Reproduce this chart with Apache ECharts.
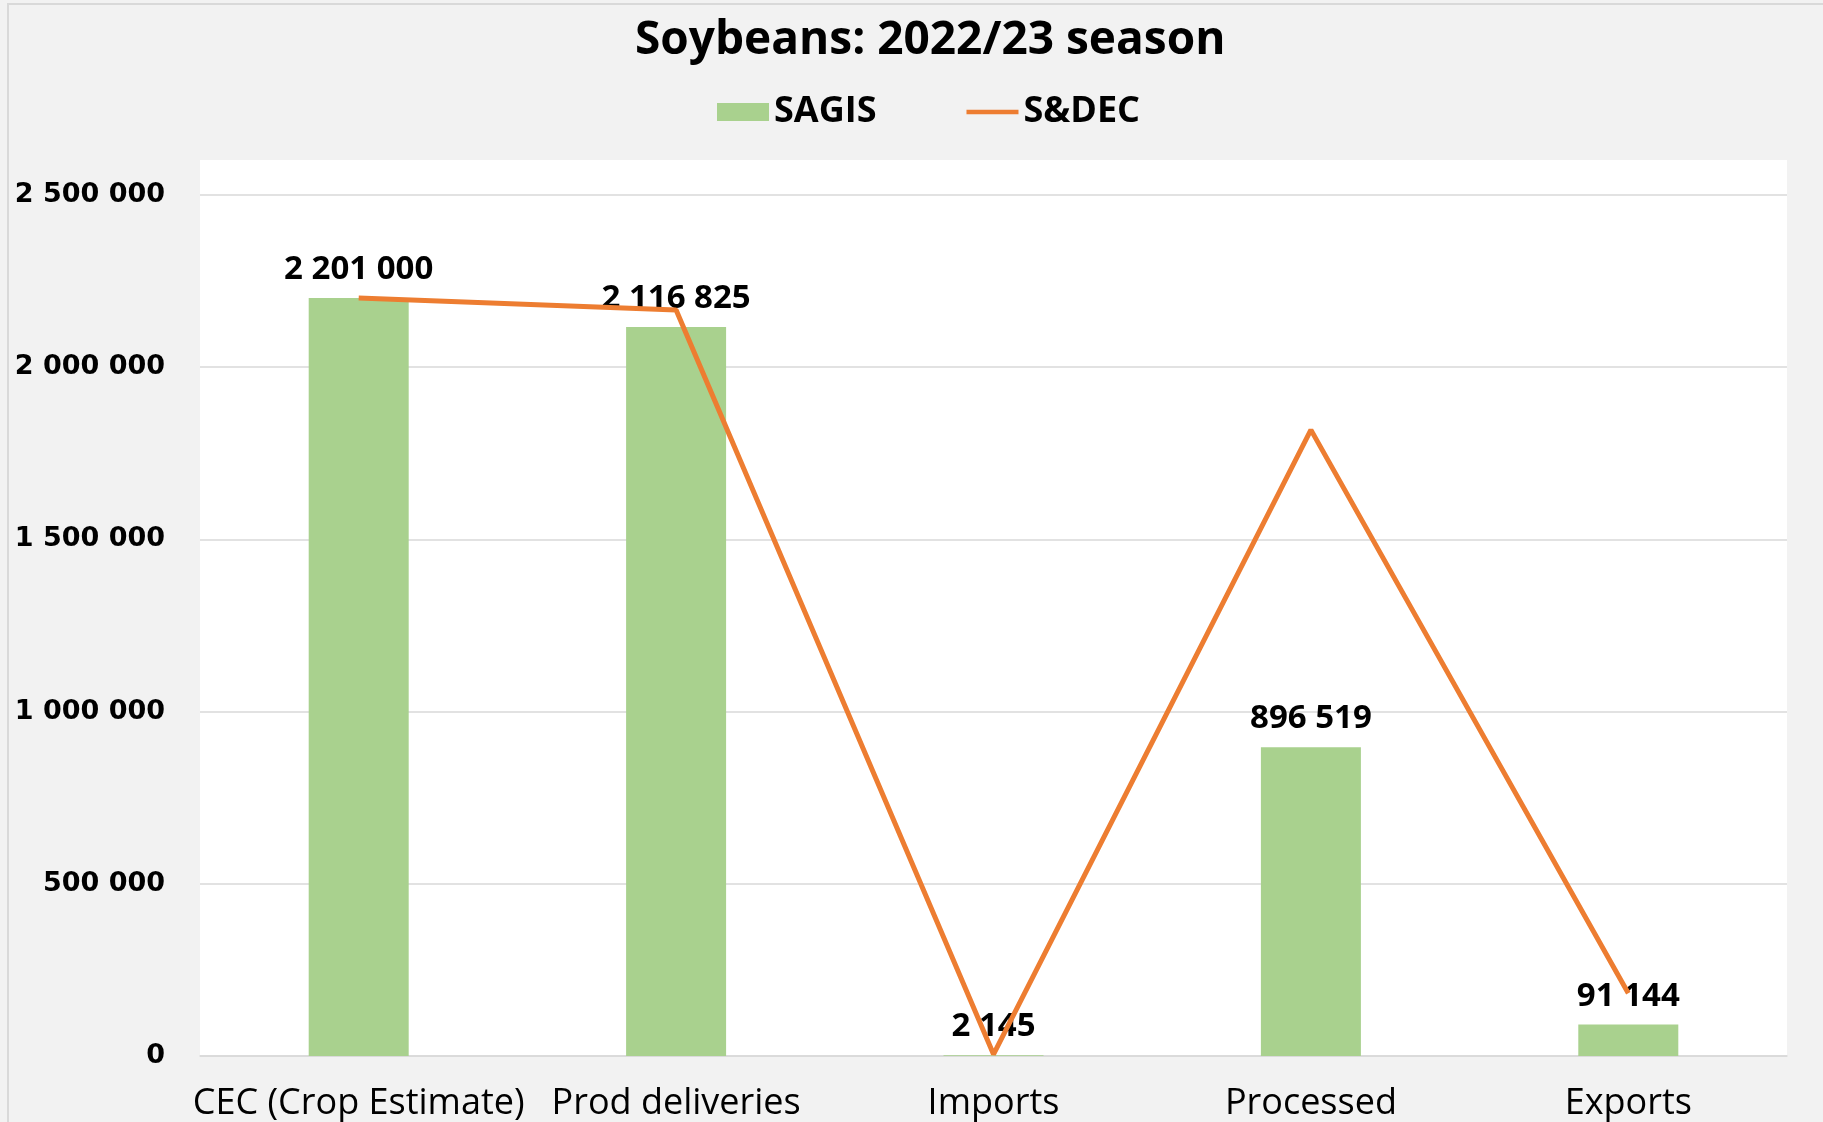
<!DOCTYPE html>
<html lang="en">

<head>
    <meta charset="UTF-8">
    <title>Soybeans 2022/23</title>
    <script src="https://cdn.jsdelivr.net/npm/echarts@6/dist/echarts.min.js"></script>
    <style>
        html,
        body,
        #main {
            padding: 0px;
            margin: 0px;
            width: 1823px;
            height: 1122px;
            background: #f2f2f2;
        }
    </style>
</head>

<body>
    <div id="main"></div>
    <script type="text/javascript">
        // chart data
        const categories = ['CEC (Crop Estimate)', 'Prod deliveries', 'Imports', 'Processed', 'Exports'];
        const sagis = [2201000, 2116825, 2145, 896519, 91144];
        const sdec = [2201000, 2166000, 5000, 1818000, 182000];
        const yTicks = [0, 500000, 1000000, 1500000, 2000000, 2500000];

        // 2 201 000 style
        function fmt(v) {
            return String(v).replace(/\B(?=(\d{3})+(?!\d))/g, ' ');
        }

        const chart = echarts.init(document.getElementById('main'));

        const option = {
            backgroundColor: '#f2f2f2',
            animation: false,
            title: {
                text: 'Soybeans: 2022/23 season',
                left: 630,
                top: 13,
                textStyle: {
                    fontFamily: 'Open Sans',
                    fontWeight: 'bold',
                    fontSize: 46,
                    color: '#000'
                }
            },
            legend: {
                left: 712,
                top: 89,
                itemWidth: 52,
                itemHeight: 18,
                itemGap: 90,
                textStyle: {
                    fontFamily: 'Open Sans',
                    fontWeight: 'bold',
                    fontSize: 36,
                    color: '#000'
                },
                data: [
                    { name: 'SAGIS', icon: 'rect' },
                    { name: 'S&DEC', icon: 'path://M0,0h60v5h-60z', itemStyle: { color: '#ed7d31' } }
                ]
            },
            graphic: [
                {
                    type: 'rect',
                    shape: { x: 8, y: 4, width: 1840, height: 1140 },
                    style: { fill: 'none', stroke: '#d9d9d9', lineWidth: 2 },
                    z: -10
                },
                {
                    type: 'rect',
                    shape: { x: 200, y: 160, width: 1587, height: 36 },
                    style: { fill: '#fff' },
                    z: -10
                }
            ],
            grid: {
                left: 200,
                right: 36,
                top: 195,
                bottom: 66,
                show: true,
                backgroundColor: '#fff',
                borderWidth: 0
            },
            xAxis: {
                type: 'category',
                data: categories,
                axisTick: { show: false },
                axisLine: { lineStyle: { color: '#d9d9d9', width: 1.5 } },
                axisLabel: {
                    margin: 30,
                    color: '#000',
                    fontFamily: 'Open Sans',
                    fontSize: 36,
                    interval: 0
                }
            },
            yAxis: {
                type: 'value',
                min: yTicks[0],
                max: yTicks[yTicks.length - 1],
                interval: yTicks[1] - yTicks[0],
                axisLine: { show: false },
                axisTick: { show: false },
                splitLine: { lineStyle: { color: '#d9d9d9', width: 1.5 } },
                axisLabel: {
                    margin: 35,
                    color: '#000',
                    fontFamily: 'DejaVu Sans',
                    fontWeight: 'bold',
                    fontSize: 27,
                    formatter: fmt
                }
            },
            series: [
                {
                    name: 'SAGIS',
                    type: 'bar',
                    data: sagis,
                    barWidth: 100,
                    itemStyle: { color: '#a9d18e' },
                    label: {
                        show: true,
                        position: 'top',
                        distance: 12,
                        color: '#000',
                        fontFamily: 'Open Sans',
                        fontWeight: 'bold',
                        fontSize: 33,
                        formatter: p => fmt(p.value)
                    },
                    z: 2
                },
                {
                    name: 'S&DEC',
                    type: 'line',
                    data: sdec,
                    symbol: 'none',
                    showSymbol: false,
                    lineStyle: { color: '#ed7d31', width: 5 },
                    itemStyle: { color: '#ed7d31' },
                    z: 3
                }
            ]
        };

        chart.setOption(option);
    </script>
</body>

</html>
